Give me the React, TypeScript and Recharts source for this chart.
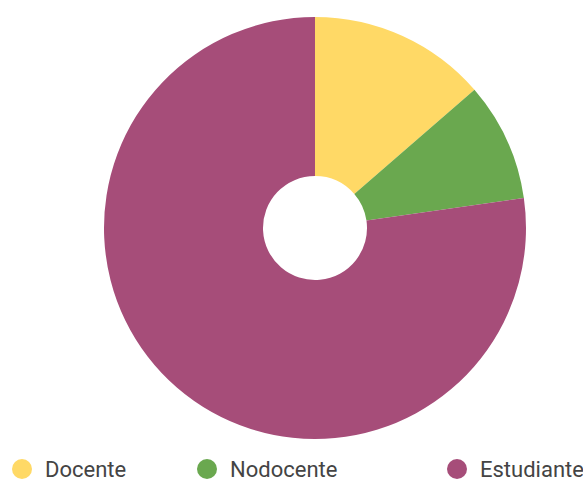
import React from 'react';
import { PieChart, Pie, Cell, Legend } from 'recharts';

const categories = ['Docente', 'Nodocente', 'Estudiante'];
const values = [15, 10, 85];
const colors = ['#FFD966', '#6AA84F', '#A64D79'];

// legend item left offsets (px)
const legendX = [12, 197, 447];

const data = categories.map((name, i) => ({ name, value: values[i] }));

const renderLegend = () => (
  <div style={{ position: 'relative', width: 583, height: 36 }}>
    {categories.map((name, i) => (
      <div
        key={name}
        style={{
          position: 'absolute',
          left: legendX[i],
          top: 0,
          height: 36,
          display: 'flex',
          alignItems: 'center',
          whiteSpace: 'nowrap',
        }}
      >
        <span
          style={{
            display: 'inline-block',
            width: 20,
            height: 20,
            borderRadius: '50%',
            background: colors[i],
            marginRight: 13,
          }}
        />
        <span style={{ fontSize: 22, color: '#444', fontFamily: 'Roboto, sans-serif' }}>{name}</span>
      </div>
    ))}
  </div>
);

export default function App() {
  return (
    <div style={{ position: 'absolute', left: 0, top: 0, width: 583, height: 481, background: '#fff' }}>
      <PieChart width={583} height={481} margin={{ top: 0, right: 0, bottom: 0, left: 0 }}>
        <Pie
          data={data}
          dataKey="value"
          nameKey="name"
          cx={315}
          cy={228}
          innerRadius={52}
          outerRadius={211}
          startAngle={90}
          endAngle={-270}
          stroke="none"
          isAnimationActive={false}
        >
          {data.map((d, i) => (
            <Cell key={d.name} fill={colors[i]} />
          ))}
        </Pie>
        <Legend
          content={renderLegend}
          wrapperStyle={{ left: 0, top: 451, width: 583, height: 36 }}
        />
      </PieChart>
    </div>
  );
}
